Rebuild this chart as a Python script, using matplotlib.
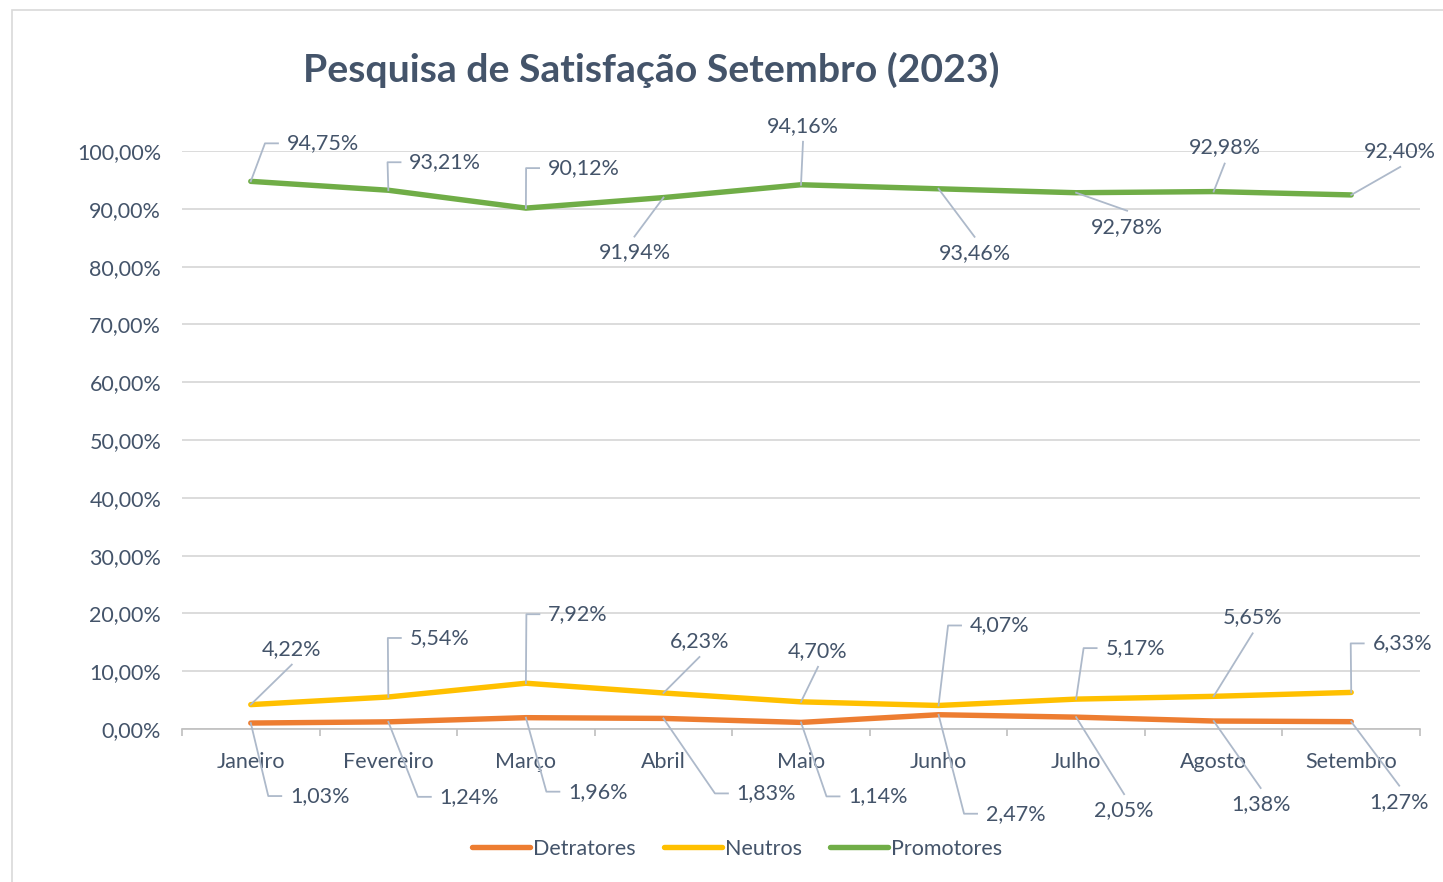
import matplotlib
matplotlib.use("Agg")
import matplotlib.pyplot as plt
from matplotlib.patches import Rectangle
from matplotlib.ticker import FuncFormatter, FixedLocator

# ---- data -------------------------------------------------------------
meses = ["Janeiro", "Fevereiro", "Março", "Abril", "Maio",
         "Junho", "Julho", "Agosto", "Setembro"]
detratores = [1.03, 1.24, 1.96, 1.83, 1.14, 2.47, 2.05, 1.38, 1.27]
neutros = [4.22, 5.54, 7.92, 6.23, 4.70, 4.07, 5.17, 5.65, 6.33]
promotores = [94.75, 93.21, 90.12, 91.94, 94.16, 93.46, 92.78, 92.98, 92.40]

# label placement (pixel offsets from the point, y down) and leader style
off_det = [(69, 73), (81, 75), (72, 74), (103, 75), (77, 74),
           (77, 99), (48, 93), (47, 83), (48, 80)]
elb_det = [1, 1, 1, 1, 1, 1, 0, 0, 0]
off_neu = [(41, -56), (51, -59), (52, -69), (36, -52), (17, -51),
           (61, -80), (59, -51), (39, -79), (51, -49)]
elb_neu = [0, 1, 1, 0, 0, 1, 1, 0, 1]
off_pro = [(72, -38), (57, -28), (58, -40), (-29, 55), (2, -59),
           (36, 64), (51, 34), (11, -44), (49, -44)]
elb_pro = [1, 1, 1, 0, 0, 0, 0, 0, 0]

C_DET, C_NEU, C_PRO = "#ED7D31", "#FFC000", "#70AD47"
TXT = "#44546A"
LEADER = "#ADB9CA"
FS = 15.5

plt.rcParams["font.family"] = ["Lato", "DejaVu Sans"]

fig = plt.figure(figsize=(14.43, 8.82), dpi=100)
W, H = 1443, 882
ax = fig.add_axes([182 / W, 1 - 729 / H, (1420 - 182) / W, (729 - 151) / H])

fig.patches.append(Rectangle((12 / W, -0.05), 1.1, 1 - 10 / H + 0.05,
                             transform=fig.transFigure, fill=False,
                             edgecolor="#D9D9D9", lw=1.2))

x = list(range(len(meses)))
lw = 3.9
for vals, col, name in [(detratores, C_DET, "Detratores"),
                        (neutros, C_NEU, "Neutros"),
                        (promotores, C_PRO, "Promotores")]:
    ax.plot(x, vals, color=col, lw=lw, solid_capstyle="round",
            solid_joinstyle="round", label=name, zorder=3)

ax.set_xlim(-0.5, len(meses) - 0.5)
ax.set_ylim(0, 100)
ax.set_yticks(range(0, 101, 10))
ax.yaxis.set_major_formatter(FuncFormatter(lambda v, p: f"{v:.2f}%".replace(".", ",")))
ax.grid(axis="y", color="#D9D9D9", lw=1.3, zorder=0)
ax.set_axisbelow(True)
for s in ["top", "right", "left"]:
    ax.spines[s].set_visible(False)
ax.spines["bottom"].set_color("#BFBFBF")
ax.spines["bottom"].set_linewidth(1.2)

ax.set_xticks(x)
ax.set_xticklabels(meses)
ax.xaxis.set_minor_locator(FixedLocator([i - 0.5 for i in range(len(meses) + 1)]))
ax.tick_params(axis="x", which="major", length=0, pad=16.5, labelsize=FS, labelcolor=TXT)
ax.tick_params(axis="x", which="minor", length=5, width=1.2, color="#BFBFBF")
ax.tick_params(axis="y", length=0, pad=15, labelsize=FS, labelcolor=TXT)

fig.text(651 / W, 1 - 70 / H, "Pesquisa de Satisfação Setembro (2023)",
         ha="center", va="center", fontsize=28.3, fontweight="bold", color=TXT)


def label_series(vals, offs, elbows):
    for i, (v, (dx, dy), el) in enumerate(zip(vals, offs, elbows)):
        txt = f"{v:.2f}%".replace(".", ",")
        px, py = ax.transData.transform((i, v))
        cx, cy = px + dx, py - dy
        ax.text(cx, cy, txt, transform=None, ha="center", va="center",
                fontsize=FS, color=TXT, zorder=5)
        half = 6.3 * len(txt)
        if el:
            left = cx - half
            xs = [px, left - 20, left - 7]
            ys = [py, cy, cy]
        else:
            ey = cy - 16 if dy < 0 else cy + 16
            xs = [px, cx]
            ys = [py, ey]
        fig.add_artist(plt.Line2D(xs, ys, transform=None, color=LEADER,
                                  lw=1.3, zorder=4))


label_series(promotores, off_pro, elb_pro)
label_series(neutros, off_neu, elb_neu)
label_series(detratores, off_det, elb_det)

fig.legend(loc="center", bbox_to_anchor=(737 / W, 1 - 849 / H), ncol=3,
           frameon=False, fontsize=FS, labelcolor=TXT, handlelength=2.7,
           handletextpad=0.15, columnspacing=1.3)

fig.savefig("out.png", dpi=100)
